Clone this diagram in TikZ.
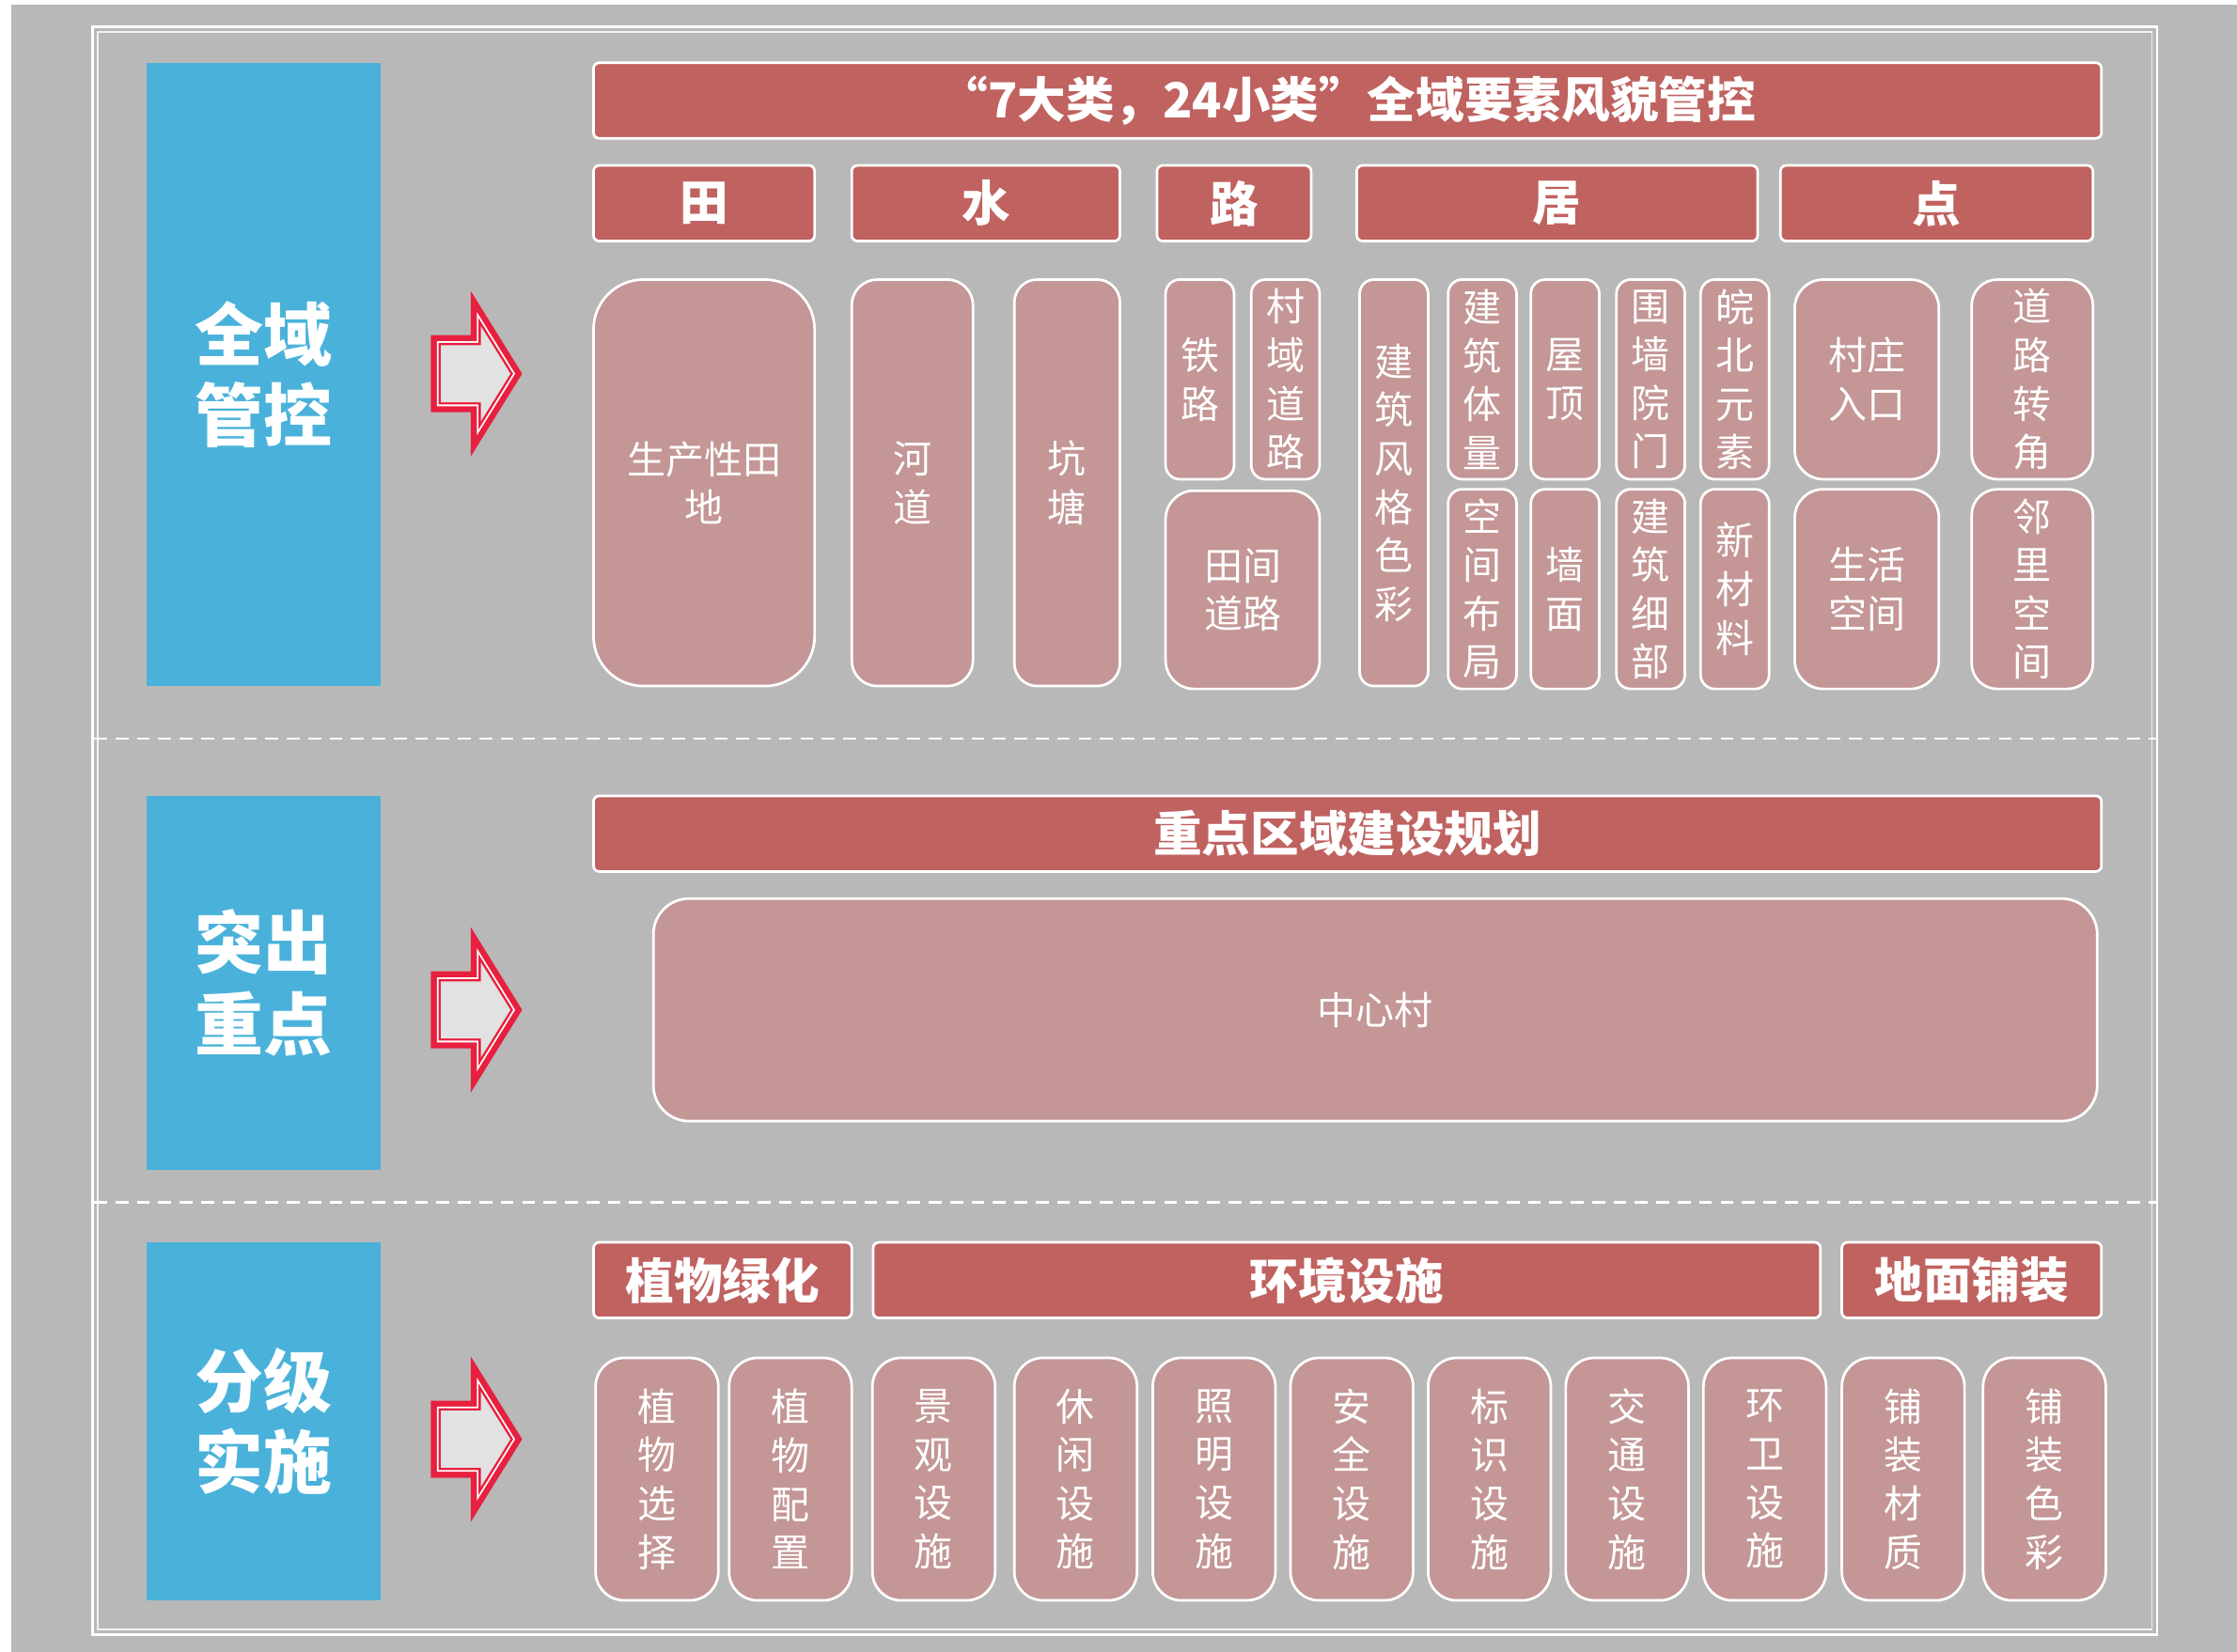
\documentclass[tikz,border=0pt]{standalone}
\usepackage{fontspec}
\setmainfont{Noto Sans CJK SC}
\newfontfamily\heavyfont{Noto Sans CJK SC Black}
\definecolor{bggray}{HTML}{B8B8B8}
\definecolor{labelblue}{HTML}{4AB2DA}
\definecolor{headred}{HTML}{BF6260}
\definecolor{itempink}{HTML}{C49696}
\definecolor{arrowred}{HTML}{E8203F}
\definecolor{arrowfill}{HTML}{E2E2E2}
% block arrow, centre line #1, inset #2
\newcommand\arrowshape[2]{({302+#2},{#1-27+#2}) -- ({330+#2},{#1-27+#2}) -- ({330+#2},{#1-58+3.51*#2}) -- ({366-1.177*#2},#1) -- ({330+#2},{#1+58-3.51*#2}) -- ({330+#2},{#1+27-#2}) -- ({302+#2},{#1+27-#2}) -- cycle}
\begin{document}
\begin{tikzpicture}[x=1pt,y=-1pt,
	lab/.style={fill=labelblue,text=white,font=\heavyfont\fontsize{48}{57}\selectfont,align=center,inner sep=0pt,minimum width=164pt},
	head/.style={fill=headred,draw=white,line width=1.8pt,rounded corners=4pt,text=white,font=\bfseries\fontsize{34}{40}\selectfont,minimum height=53pt,inner sep=0pt},
	item/.style={fill=itempink,draw=white,line width=1.8pt,rounded corners=10pt,text=white,font=\fontsize{27}{34}\selectfont,align=center,inner sep=0pt,minimum width=48pt,minimum height=140pt},
	sep/.style={white,line width=1.6pt,dash pattern=on 9pt off 6pt}]
	\useasboundingbox (0,0) rectangle (1568,1158);
	\fill[white] (0,0) rectangle (1568,1158);
	\fill[bggray] (8,3) rectangle (1568,1158);
	\draw[white,line width=1.8pt] (65,19) rectangle (1512,1146);
	\draw[white!80!bggray,line width=1pt] (68.5,22.5) rectangle (1508.5,1142.5);
	\draw[sep] (66,518) -- (1511,518);
	\draw[sep] (66,843) -- (1511,843);
	% left labels
	\node[lab,minimum height=437pt] (quanyu) at (185,262.5) {全域\\管控};
	\node[lab,minimum height=262pt] (tuchu) at (185,689) {突出\\重点};
	\node[lab,minimum height=251pt] (fenji) at (185,996.5) {分级\\实施};
	% arrows
	\foreach \ay in {262,708,1009} {
		\fill[arrowred] \arrowshape{\ay}{0};
		\fill[white] \arrowshape{\ay}{4.2};
		\fill[arrowred] \arrowshape{\ay}{5.4};
		\fill[arrowfill] \arrowshape{\ay}{7};
	}
	% row 1
	\node[head,minimum width=1057pt] (fengmao) at (944.5,70.5) {“7大类，24小类”全域要素风貌管控};
	\node[head,minimum width=155pt] (tian) at (493.5,142.5) {田};
	\node[head,minimum width=188pt] (shui) at (691,142.5) {水};
	\node[head,minimum width=108pt] (lu) at (865,142.5) {路};
	\node[head,minimum width=281pt] (ju) at (1091.5,142.5) {居};
	\node[head,minimum width=219pt] (dian) at (1357.5,142.5) {点};
	\node[item,minimum width=155pt,minimum height=285pt,rounded corners=35pt] (tiandi) at (493.5,338.5) {生产性田\\地};
	\node[item,minimum width=85pt,minimum height=285pt,rounded corners=18pt] (hedao) at (639.5,338.5) {河\\道};
	\node[item,minimum width=74pt,minimum height=285pt,rounded corners=16pt] (kengtang) at (748,338.5) {坑\\塘};
	\node[item] (tielu) at (841,266) {铁\\路};
	\node[item] (cunyu) at (901,266) {村\\域\\道\\路};
	\node[item,minimum width=108pt,minimum height=139pt,rounded corners=20pt] (tianjian) at (871,413.5) {田间\\道路};
	\node[item,minimum height=285pt] (fengge) at (977,338.5) {建\\筑\\风\\格\\色\\彩};
	\node[item] (tiliang) at (1039,266) {建\\筑\\体\\量};
	\node[item] (buju) at (1039,413) {空\\间\\布\\局};
	\node[item] (wuding) at (1097,266) {屋\\顶};
	\node[item] (qiangmian) at (1097,413) {墙\\面};
	\node[item] (yuanmen) at (1157,266) {围\\墙\\院\\门};
	\node[item] (xibu) at (1157,413) {建\\筑\\细\\部};
	\node[item] (wanbei) at (1216,266) {皖\\北\\元\\素};
	\node[item] (cailiao) at (1216,413) {新\\材\\料};
	\node[item,minimum width=101pt,rounded corners=20pt] (rukou) at (1308.5,266) {村庄\\入口};
	\node[item,minimum width=101pt,rounded corners=20pt] (shenghuo) at (1308.5,413) {生活\\空间};
	\node[item,minimum width=85pt,rounded corners=18pt] (zhuanjiao) at (1424.5,266) {道\\路\\转\\角};
	\node[item,minimum width=85pt,rounded corners=18pt] (linli) at (1424.5,413) {邻\\里\\空\\间};
	% row 2
	\node[head,minimum width=1057pt] (zhongdian) at (944.5,584.5) {重点区域建设规划};
	\node[item,minimum width=1012pt,minimum height=156pt,rounded corners=25pt] (zhongxin) at (964,708) {中心村};
	% row 3
	\node[head,minimum width=181pt] (lvhua) at (506.5,897.5) {植物绿化};
	\node[head,minimum width=664pt] (sheshi) at (944,897.5) {环境设施};
	\node[head,minimum width=182pt] (puzhuang) at (1382,897.5) {地面铺装};
	\foreach \cx/\txt [count=\i] in {460.5/{植\\物\\选\\择},554/{植\\物\\配\\置},654.5/{景\\观\\设\\施},754/{休\\闲\\设\\施},851/{照\\明\\设\\施},947.5/{安\\全\\设\\施},1044/{标\\识\\设\\施},1140.5/{交\\通\\设\\施},1237/{环\\卫\\设\\施},1334/{铺\\装\\材\\质},1433/{铺\\装\\色\\彩}}
		\node[item,minimum width=86pt,minimum height=170pt,rounded corners=20pt] (fac\i) at (\cx,1037) {\txt};
\end{tikzpicture}
\end{document}
